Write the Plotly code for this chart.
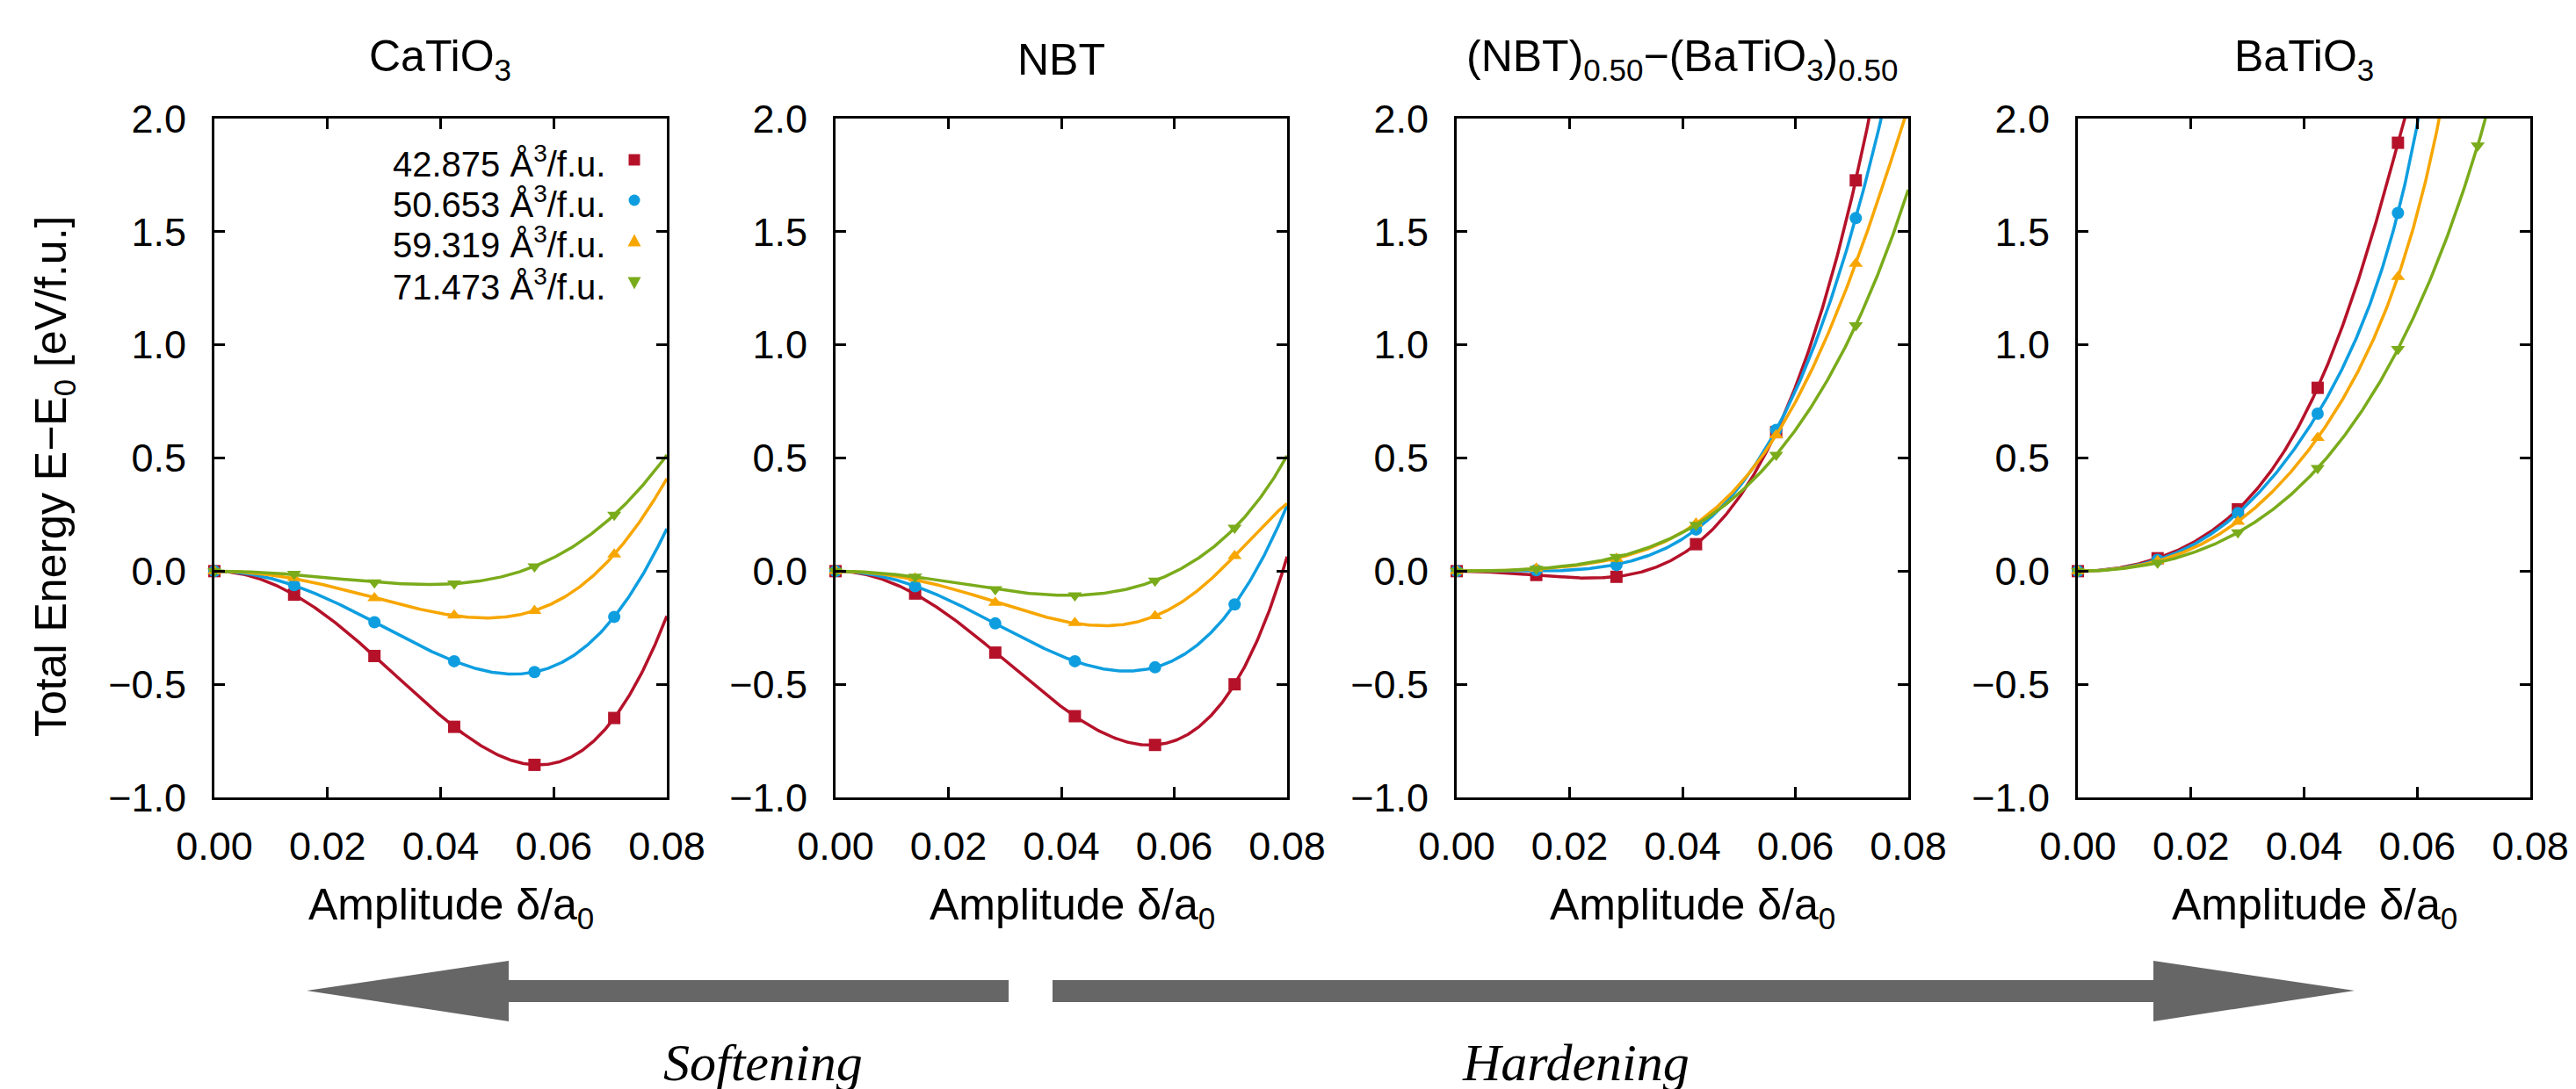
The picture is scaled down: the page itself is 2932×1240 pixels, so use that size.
import numpy as np
import plotly.graph_objects as go

W, H = 2932, 1240

# ---------------- data ----------------
panel_titles = ["CaTiO<sub>3</sub>", "NBT",
                "(NBT)<sub>0.50</sub>\u2212(BaTiO<sub>3</sub>)<sub>0.50</sub>",
                "BaTiO<sub>3</sub>"]
series_names = ["42.875 \u00c5<sup>3</sup>/f.u.", "50.653 \u00c5<sup>3</sup>/f.u.",
                "59.319 \u00c5<sup>3</sup>/f.u.", "71.473 \u00c5<sup>3</sup>/f.u."]
amplitude = [0.0, 0.0141, 0.0283, 0.0424, 0.0566, 0.0707]

# CaTiO3
cat_red = [0.0, -0.104, -0.375, -0.688, -0.856, -0.649]
cat_blue = [0.0, -0.062, -0.226, -0.398, -0.446, -0.202]
cat_orange = [0.0, -0.030, -0.119, -0.196, -0.175, 0.074]
cat_green = [0.0, -0.012, -0.050, -0.055, 0.021, 0.249]
# NBT
nbt_red = [0.0, -0.099, -0.360, -0.641, -0.768, -0.500]
nbt_blue = [0.0, -0.067, -0.231, -0.398, -0.425, -0.147]
nbt_orange = [0.0, -0.032, -0.139, -0.229, -0.199, 0.067]
nbt_green = [0.0, -0.025, -0.080, -0.107, -0.042, 0.191]
# (NBT)0.5-(BaTiO3)0.5
mix_red = [0.0, -0.017, -0.025, 0.119, 0.614, 1.727]
mix_blue = [0.0, 0.004, 0.027, 0.184, 0.624, 1.560]
mix_orange = [0.0, 0.012, 0.055, 0.211, 0.601, 1.359]
mix_green = [0.0, 0.010, 0.062, 0.204, 0.514, 1.086]
# BaTiO3 (last point of first three series lies above the plotted range)
bto_red = [0.0, 0.057, 0.273, 0.810, 1.893]
bto_blue = [0.0, 0.050, 0.256, 0.696, 1.583]
bto_orange = [0.0, 0.045, 0.219, 0.589, 1.300]
bto_green = [0.0, 0.037, 0.171, 0.455, 0.981, 1.881]

panels = [
    [cat_red, cat_blue, cat_orange, cat_green],
    [nbt_red, nbt_blue, nbt_orange, nbt_green],
    [mix_red, mix_blue, mix_orange, mix_green],
    [bto_red, bto_blue, bto_orange, bto_green],
]

x_ticks = [0.0, 0.02, 0.04, 0.06, 0.08]
y_ticks = [-1.0, -0.5, 0.0, 0.5, 1.0, 1.5, 2.0]

colors = ["#b5122a", "#0e9ee0", "#f7a600", "#7aab1b"]
symbols = ["square", "circle", "triangle-up", "triangle-down"]

# ---------------- layout geometry (pixels) ----------------
panel_px = [(244, 759), (951, 1465), (1658, 2172), (2365, 2880)]
top_px, bot_px = 135, 908


def PX(x):
    return x / W


def PY(y):
    return 1 - y / H


def even_poly_fit(xs, ys):
    # least squares fit E = a2 x^2 + a4 x^4 + a6 x^6 + a8 x^8 (Landau-type expansion)
    xs = np.asarray(xs, float)
    ys = np.asarray(ys, float)
    s = 0.01
    u = xs / s
    npar = min(4, len(xs) - 1)
    A = np.vstack([u ** (2 * (k + 1)) for k in range(npar)]).T
    coef, *_ = np.linalg.lstsq(A, ys, rcond=None)
    xf = np.linspace(0, 0.08, 400)
    uf = xf / s
    yf = sum(c * uf ** (2 * (k + 1)) for k, c in enumerate(coef))
    return xf, yf


fig = go.Figure()
font_main = "Liberation Sans, Arial, sans-serif"

for p, series in enumerate(panels):
    xa = "x" if p == 0 else f"x{p+1}"
    ya = "y" if p == 0 else f"y{p+1}"
    for s, ys in enumerate(series):
        xs = amplitude[:len(ys)]
        xf, yf = even_poly_fit(xs, ys)
        fig.add_trace(go.Scatter(x=xf, y=yf, mode="lines", xaxis=xa, yaxis=ya,
                                 line=dict(color=colors[s], width=3.5),
                                 showlegend=False, hoverinfo="skip"))
        fig.add_trace(go.Scatter(x=xs, y=ys, mode="markers", xaxis=xa, yaxis=ya,
                                 marker=dict(symbol=symbols[s], color=colors[s], size=14,
                                             line=dict(width=0)),
                                 cliponaxis=False, showlegend=False,
                                 name=series_names[s]))

layout = dict(width=W, height=H, margin=dict(l=0, r=0, t=0, b=0, pad=0, autoexpand=False),
              paper_bgcolor="white", plot_bgcolor="white", showlegend=False,
              font=dict(family=font_main, color="black"))

for p, (l, r) in enumerate(panel_px):
    xk = "xaxis" if p == 0 else f"xaxis{p+1}"
    yk = "yaxis" if p == 0 else f"yaxis{p+1}"
    ya = "y" if p == 0 else f"y{p+1}"
    xa = "x" if p == 0 else f"x{p+1}"
    layout[xk] = dict(domain=[PX(l), PX(r)], anchor=ya, range=[0, 0.08], automargin=False,
                      tickvals=x_ticks, tickformat=".2f", ticks="inside", ticklen=12,
                      tickwidth=2.5, tickcolor="black", showline=True, linecolor="black",
                      linewidth=3, mirror="ticks", showgrid=False, zeroline=False,
                      tickfont=dict(size=45, family=font_main, color="black"),
                      ticklabelstandoff=14)
    layout[yk] = dict(domain=[PY(bot_px), PY(top_px)], anchor=xa, range=[-1, 2], automargin=False,
                      tickvals=y_ticks, tickformat=".1f", ticks="inside", ticklen=12,
                      tickwidth=2.5, tickcolor="black", showline=True, linecolor="black",
                      linewidth=3, mirror="ticks", showgrid=False, zeroline=False,
                      tickfont=dict(size=45, family=font_main, color="black"),
                      ticklabelstandoff=20)

annotations = []
for p, (l, r) in enumerate(panel_px):
    cx = (l + r) / 2
    annotations.append(dict(text=panel_titles[p], x=PX(cx), y=PY(68), xref="paper", yref="paper",
                            xanchor="center", yanchor="middle", showarrow=False,
                            font=dict(size=50, family=font_main, color="black")))
    annotations.append(dict(text="Amplitude \u03b4/a<sub>0</sub>", x=PX(cx + 12), y=PY(1033),
                            xref="paper", yref="paper", xanchor="center", yanchor="middle",
                            showarrow=False, font=dict(size=50, family=font_main, color="black")))

annotations.append(dict(text="Total Energy E\u2212E<sub>0</sub> [eV/f.u.]", x=PX(61), y=PY(543),
                        xref="paper", yref="paper", xanchor="center", yanchor="middle",
                        textangle=-90, showarrow=False,
                        font=dict(size=50, family=font_main, color="black")))

# manual key (text right-aligned, symbol to the right, as in the reference)
key_rows = [182, 228, 274, 322]
shapes = []
for s, yr in enumerate(key_rows):
    annotations.append(dict(text=series_names[s], x=PX(691), y=PY(yr + 2), xref="paper", yref="paper",
                            xanchor="right", yanchor="middle", showarrow=False,
                            font=dict(size=40, family=font_main, color="black")))
    cx, cy, h = 722, yr, 6.5
    if symbols[s] == "square":
        path = f"M{PX(cx-h)},{PY(cy-h)} L{PX(cx+h)},{PY(cy-h)} L{PX(cx+h)},{PY(cy+h)} L{PX(cx-h)},{PY(cy+h)} Z"
        shapes.append(dict(type="path", path=path, xref="paper", yref="paper",
                           fillcolor=colors[s], line=dict(width=0)))
    elif symbols[s] == "circle":
        shapes.append(dict(type="circle", xref="paper", yref="paper", x0=PX(cx - h), x1=PX(cx + h),
                           y0=PY(cy + h), y1=PY(cy - h), fillcolor=colors[s], line=dict(width=0)))
    elif symbols[s] == "triangle-up":
        path = f"M{PX(cx)},{PY(cy-h-1)} L{PX(cx+h+1)},{PY(cy+h)} L{PX(cx-h-1)},{PY(cy+h)} Z"
        shapes.append(dict(type="path", path=path, xref="paper", yref="paper",
                           fillcolor=colors[s], line=dict(width=0)))
    else:
        path = f"M{PX(cx)},{PY(cy+h+1)} L{PX(cx+h+1)},{PY(cy-h)} L{PX(cx-h-1)},{PY(cy-h)} Z"
        shapes.append(dict(type="path", path=path, xref="paper", yref="paper",
                           fillcolor=colors[s], line=dict(width=0)))

# arrows
left_arrow = [(349, 1128), (579, 1094), (579, 1116), (1148, 1116), (1148, 1141), (579, 1141), (579, 1163)]
right_arrow = [(1198, 1116), (2451, 1116), (2451, 1094), (2680, 1128), (2451, 1163), (2451, 1141), (1198, 1141)]
for arr in (left_arrow, right_arrow):
    path = "M" + " L".join(f"{PX(a)},{PY(b)}" for a, b in arr) + " Z"
    shapes.append(dict(type="path", path=path, xref="paper", yref="paper",
                       fillcolor="#666666", line=dict(width=0)))

annotations.append(dict(text="<i>Softening</i>", x=PX(868), y=PY(1210), xref="paper", yref="paper",
                        xanchor="center", yanchor="middle", showarrow=False,
                        font=dict(size=60, family="Liberation Serif, DejaVu Serif, serif", color="black")))
annotations.append(dict(text="<i>Hardening</i>", x=PX(1793), y=PY(1210), xref="paper", yref="paper",
                        xanchor="center", yanchor="middle", showarrow=False,
                        font=dict(size=60, family="Liberation Serif, DejaVu Serif, serif", color="black")))

layout["annotations"] = annotations
layout["shapes"] = shapes
fig.update_layout(**layout)
fig.write_html("out.html", config={"displayModeBar": False},
               post_script="document.body.style.margin='0px';document.body.style.overflow='hidden';")
